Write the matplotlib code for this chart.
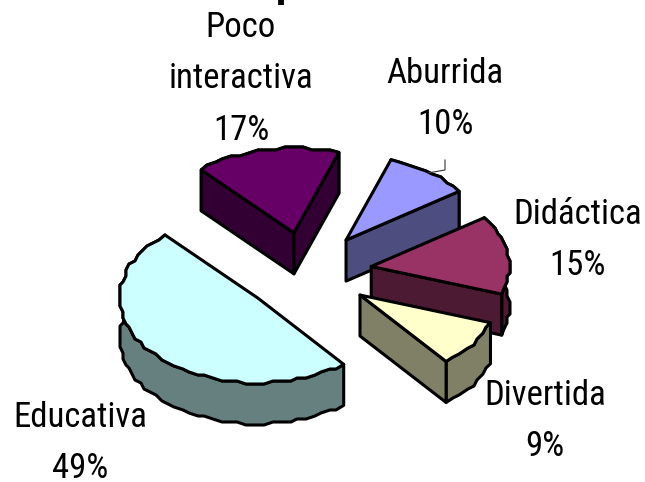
import numpy as np
import matplotlib.pyplot as plt
from matplotlib.patches import Polygon

plt.rcParams['font.family'] = ['Roboto Condensed', 'Liberation Sans']

labels = ['Aburrida', 'Didáctica', 'Divertida', 'Educativa', 'Poco\ninteractiva']
pct_labels = ['10%', '15%', '9%', '49%', '17%']
values = [10, 15, 9, 49, 17]
top_colors = ['#9999FF', '#993366', '#FFFFCC', '#CCFFFF', '#660066']
side_colors = ['#4D4D80', '#4D1A33', '#808066', '#668080', '#330033']
label_pos = [(445, 99), (578, 240), (545, 421), (80, 443), (241, 79)]

# pie geometry, pixels
cx, cy = 307, 272
rx, ry = 138, 85
depth = 41
explode = 0.47
start = 19.0


def arc_points(a0, a1, ox, oy):
    # a is clockwise from the top, coarse steps + snapping gives the jagged edge
    n = max(int((a1 - a0) / 3.5), 2)
    a = np.radians(np.linspace(a0, a1, n))
    x = ox + rx * np.sin(a)
    y = oy - ry * np.cos(a)
    x[1:-1] = np.round(x[1:-1] / 3) * 3
    y[1:-1] = np.round(y[1:-1] / 3) * 3
    return np.column_stack([x, y])


fig = plt.figure(figsize=(6.45, 4.82), dpi=100)
ax = fig.add_axes([0, 0, 1, 1])
ax.set_xlim(0, 645)
ax.set_ylim(482, 0)
ax.axis('off')

angles = start + 3.6 * np.concatenate([[0], np.cumsum(values)])
edge = dict(edgecolor='black', linewidth=2.2, joinstyle='round')

# back to front
for i in [4, 0, 1, 3, 2]:
    a0, a1 = angles[i], angles[i + 1]
    mid = np.radians((a0 + a1) / 2)
    ox = cx + explode * rx * np.sin(mid)
    oy = cy - explode * ry * np.cos(mid)
    arc = arc_points(a0, a1, ox, oy)
    apex = np.array([[ox, oy]])
    down = np.array([0, depth])
    wall = np.vstack([arc, (arc + down)[::-1]])
    ax.add_patch(Polygon(wall, closed=True, facecolor=side_colors[i], **edge))
    # only the cut faces turned towards the viewer
    if np.sin(np.radians(a0)) < 0:
        wall = np.array([apex[0], arc[0], arc[0] + down, apex[0] + down])
        ax.add_patch(Polygon(wall, closed=True, facecolor=side_colors[i], **edge))
    if np.sin(np.radians(a1)) > 0:
        wall = np.array([apex[0], arc[-1], arc[-1] + down, apex[0] + down])
        ax.add_patch(Polygon(wall, closed=True, facecolor=side_colors[i], **edge))
    ax.add_patch(Polygon(np.vstack([apex, arc]), closed=True, facecolor=top_colors[i], **edge))

# leader line for Aburrida
ax.plot([445, 445, 428], [160, 170, 173], color='#333333', lw=0.8)

for lab, pct, (x, y) in zip(labels, pct_labels, label_pos):
    ax.text(x, y, lab + '\n' + pct, ha='center', va='center', fontsize=25,
            linespacing=1.71, color='black')

# bottom of the title, the rest is off the top of the image
ax.text(286, -4, 'p', ha='center', va='baseline', fontsize=30, fontweight='bold')

fig.savefig('out.png', dpi=100)
